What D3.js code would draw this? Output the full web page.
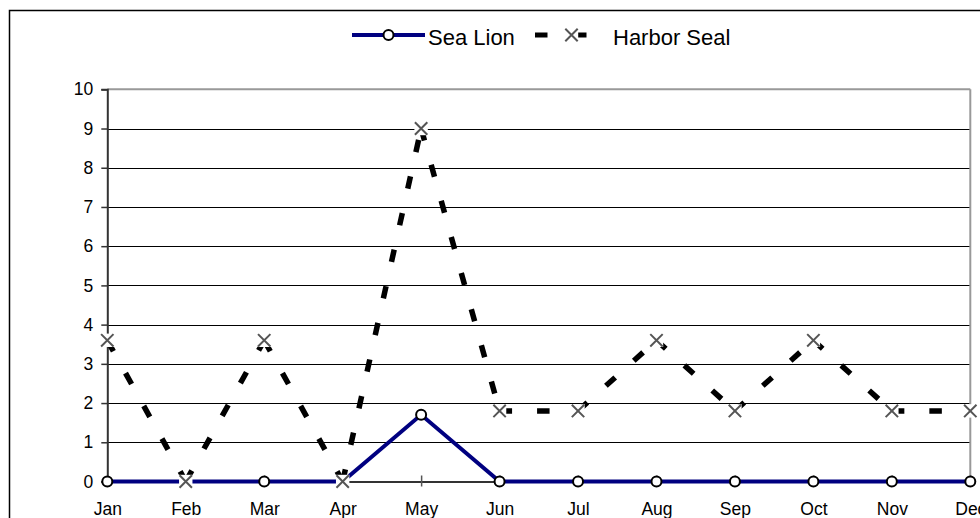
<!DOCTYPE html>
<html>
<head>
<meta charset="utf-8">
<script src="https://cdn.jsdelivr.net/npm/d3@7"></script>
<style>
  html, body { margin: 0; padding: 0; background: #fff; }
  svg { display: block; font-family: "Liberation Sans", Arial, sans-serif; }
</style>
</head>
<body>
<svg id="chart" width="980" height="518"></svg>
<script>
const months = ["Jan","Feb","Mar","Apr","May","Jun","Jul","Aug","Sep","Oct","Nov","Dec"];
const seaLion = [0, 0, 0, 0, 1.7, 0, 0, 0, 0, 0, 0, 0];
const harborSeal = [3.6, 0, 3.6, 0, 9, 1.8, 1.8, 3.6, 1.8, 3.6, 1.8, 1.8];
const yTicks = [0,1,2,3,4,5,6,7,8,9,10];
const seriesNames = ["Sea Lion", "Harbor Seal"];

(function () {
const svg = d3.select("#chart");
const pL = 107.3, pR = 970.3, pT = 89.3, pB = 481.5;

// outer chart border
svg.append("rect").attr("x", 9.5).attr("y", 10.5).attr("width", 1000).attr("height", 600)
  .attr("fill", "#fff").attr("stroke", "#000").attr("stroke-width", 1.5);

const x = d3.scalePoint().domain(months).range([pL, pR]);
const y = d3.scaleLinear().domain([0, 10]).range([pB, pT]);

// gridlines
svg.append("g").selectAll("line").data(yTicks.filter(d => d > 0 && d < 10)).join("line")
  .attr("x1", pL).attr("x2", pR)
  .attr("y1", d => Math.round(y(d)) + 0.5).attr("y2", d => Math.round(y(d)) + 0.5)
  .attr("stroke", "#000").attr("stroke-width", 1);

// plot area border (gray)
svg.append("line").attr("x1", pL).attr("x2", pR).attr("y1", y(10)).attr("y2", y(10))
  .attr("stroke", "#999").attr("stroke-width", 2);
svg.append("line").attr("x1", pR).attr("x2", pR).attr("y1", y(10)).attr("y2", y(0))
  .attr("stroke", "#999").attr("stroke-width", 2);

// y axis
const yAxis = svg.append("g").attr("transform", `translate(${pL},0)`)
  .call(d3.axisLeft(y).tickValues(yTicks).tickSize(6).tickPadding(8).tickFormat(d3.format("d")));
yAxis.select(".domain").attr("stroke", "#333").attr("stroke-width", 2);
yAxis.selectAll(".tick line").attr("stroke", "#333").attr("stroke-width", 1.5);
yAxis.selectAll("text").attr("font-size", 17.5).attr("fill", "#000")
  .attr("font-family", "'Liberation Sans', Arial, sans-serif");

// x axis
const xAxis = svg.append("g").attr("transform", `translate(0,${pB})`)
  .call(d3.axisBottom(x).tickSize(5).tickSizeOuter(0));
xAxis.select(".domain").attr("stroke", "#333").attr("stroke-width", 2);
xAxis.selectAll(".tick line").attr("y1", -6).attr("y2", 5).attr("stroke", "#555").attr("stroke-width", 1.5);
xAxis.selectAll("text").attr("font-size", 17.5).attr("fill", "#000").attr("y", 33.5).attr("dy", 0)
  .attr("font-family", "'Liberation Sans', Arial, sans-serif");

// Sea Lion line
const slPts = months.map((m, i) => ({m, v: seaLion[i]}));
svg.append("path").datum(slPts)
  .attr("d", d3.line().x(d => x(d.m)).y(d => y(d.v)))
  .attr("fill", "none").attr("stroke", "#000080").attr("stroke-width", 4);

// Harbor Seal dashed line (dash pattern restarts at each point)
const hsPts = months.map((m, i) => ({m, v: harborSeal[i]}));
const segs = d3.pairs(hsPts);
svg.append("g").selectAll("line").data(segs).join("line")
  .attr("x1", d => x(d[0].m)).attr("y1", d => y(d[0].v))
  .attr("x2", d => x(d[1].m)).attr("y2", d => y(d[1].v))
  .attr("stroke", "#000").attr("stroke-width", 5.5).attr("stroke-dasharray", "12.5,25");

// Sea Lion markers
svg.append("g").selectAll("circle").data(slPts).join("circle")
  .attr("cx", d => x(d.m)).attr("cy", d => y(d.v)).attr("r", 5)
  .attr("fill", "#fff").attr("stroke", "#000").attr("stroke-width", 2);

// Harbor Seal markers: x with white background square
function cross(g, cx, cy, s) {
  g.append("rect").attr("x", cx - s - 0.5).attr("y", cy - s - 0.5)
    .attr("width", 2 * s + 1).attr("height", 2 * s + 1).attr("fill", "#fff");
  g.append("path").attr("d", `M${cx - s},${cy - s}L${cx + s},${cy + s}M${cx - s},${cy + s}L${cx + s},${cy - s}`)
    .attr("stroke", "#555").attr("stroke-width", 2).attr("fill", "none");
}
const hsMarks = svg.append("g");
hsPts.forEach(d => cross(hsMarks, x(d.m), y(d.v), 6.2));

// legend
const lg = svg.append("g");
const ly = 35;
lg.append("line").attr("x1", 352).attr("x2", 425).attr("y1", ly).attr("y2", ly)
  .attr("stroke", "#000080").attr("stroke-width", 4);
lg.append("circle").attr("cx", 388.5).attr("cy", ly).attr("r", 5)
  .attr("fill", "#fff").attr("stroke", "#000").attr("stroke-width", 2);
lg.append("text").attr("x", 428).attr("y", 45).attr("font-size", 22).attr("fill", "#000").text(seriesNames[0]);
lg.append("line").attr("x1", 535).attr("x2", 608).attr("y1", ly).attr("y2", ly)
  .attr("stroke", "#000").attr("stroke-width", 5).attr("stroke-dasharray", "12.5,26.5");
cross(lg, 571.5, ly, 6.2);
lg.append("text").attr("x", 613).attr("y", 45).attr("font-size", 22).attr("fill", "#000").text(seriesNames[1]);
})();
</script>
</body>
</html>
